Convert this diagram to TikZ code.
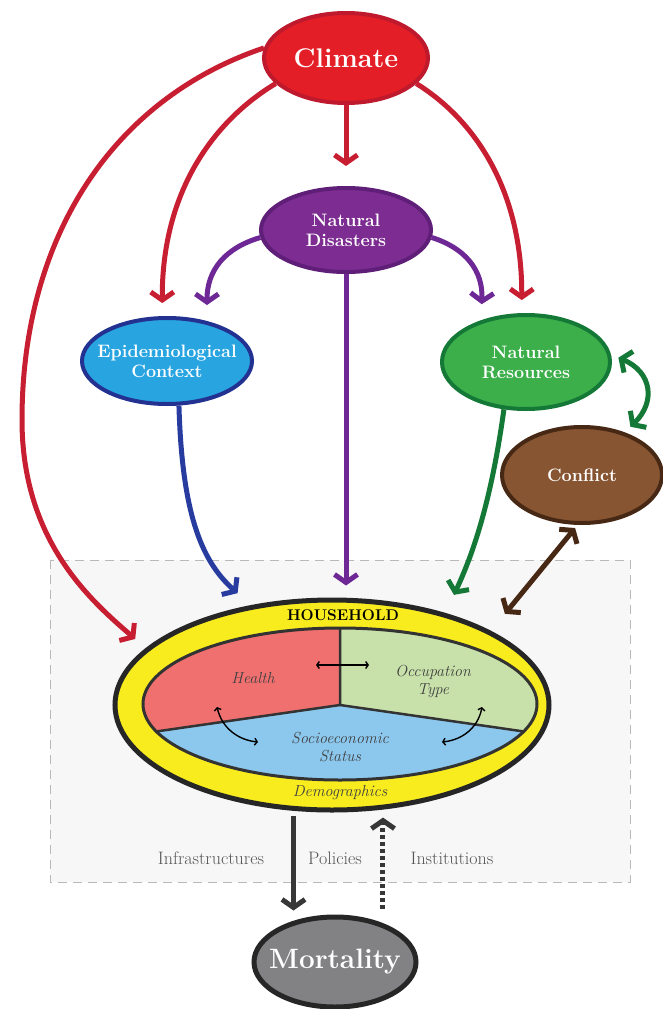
\documentclass[tikz,border=0pt]{standalone}
\usepackage{fontspec}
\usetikzlibrary{arrows.meta,shapes.geometric}
\definecolor{climfill}{RGB}{228,30,38}
\definecolor{climdraw}{RGB}{190,25,45}
\definecolor{climarr}{RGB}{200,30,50}
\definecolor{ndfill}{RGB}{125,45,145}
\definecolor{nddraw}{RGB}{95,30,120}
\definecolor{ndarr}{RGB}{110,40,150}
\definecolor{epifill}{RGB}{40,165,225}
\definecolor{epidraw}{RGB}{35,50,145}
\definecolor{epiarr}{RGB}{40,60,160}
\definecolor{nrfill}{RGB}{60,175,75}
\definecolor{nrdraw}{RGB}{20,120,55}
\definecolor{conffill}{RGB}{135,85,50}
\definecolor{confdraw}{RGB}{70,40,20}
\definecolor{hhyellow}{RGB}{248,236,30}
\definecolor{healthred}{RGB}{240,112,112}
\definecolor{occgreen}{RGB}{200,225,170}
\definecolor{socblue}{RGB}{140,200,238}
\definecolor{mortfill}{RGB}{130,130,132}
\definecolor{darkline}{RGB}{55,55,55}
\definecolor{labgray}{RGB}{85,85,85}
\begin{document}
\begin{tikzpicture}[x=1pt,y=-1pt,
  bubble/.style={ellipse, inner xsep=-11pt, inner ysep=0pt, line width=4pt, text=white, font=\bfseries\fontsize{18}{20}\selectfont, align=center},
  arr/.style={line width=5pt, -{Straight Barb[length=8pt,width=23pt]}},
  darr/.style={line width=5pt, {Straight Barb[length=8pt,width=23pt]}-{Straight Barb[length=8pt,width=23pt]}},
  small/.style={line width=1.4pt, {Straight Barb[length=2.5pt,width=7pt]}-{Straight Barb[length=2.5pt,width=7pt]}},
  ital/.style={font=\itshape\fontsize{16}{18}\selectfont, align=center},
  lab/.style={text=labgray, font=\fontsize{18}{20}\selectfont}
]
\path[use as bounding box, fill=white] (0,0) rectangle (662,1009);

% background dashed box
\draw[gray!55, fill=gray!6, line width=0.9pt, dash pattern=on 9pt off 6pt] (50,560) rectangle (630,882);

% main nodes
\node[bubble, fill=climfill, draw=climdraw, minimum width=164pt, minimum height=90pt, font=\bfseries\fontsize{27}{29}\selectfont] (clim) at (346,58) {Climate};
\node[bubble, fill=ndfill, draw=nddraw, minimum width=170pt, minimum height=84pt] (nd) at (346,230) {Natural\\Disasters};
\node[bubble, fill=epifill, draw=epidraw, minimum width=170pt, minimum height=86pt] (epi) at (167,361) {Epidemiological\\Context};
\node[bubble, fill=nrfill, draw=nrdraw, minimum width=168pt, minimum height=94pt] (nr) at (526,362) {Natural\\Resources};
\node[bubble, fill=conffill, draw=confdraw, minimum width=160pt, minimum height=96pt] (conf) at (582,475) {Conflict};

% household
\node[ellipse, inner sep=0pt, fill=hhyellow, draw=black!85, line width=5pt, minimum width=434pt, minimum height=210pt] (hh) at (332,705) {};
\begin{scope}
  \clip (340,704) ellipse [x radius=197, y radius=76];
  \fill[healthred] (340,600) -- (340,705) -- (100,740) -- (100,600) -- cycle;
  \fill[occgreen] (340,600) -- (340,705) -- (580,740) -- (580,600) -- cycle;
  \fill[socblue] (100,740) -- (340,705) -- (580,740) -- (580,800) -- (100,800) -- cycle;
  \draw[black!80, line width=2.5pt] (340,600) -- (340,705) -- (90,741);
  \draw[black!80, line width=2.5pt] (340,705) -- (590,741);
\end{scope}
\draw[black!80, line width=3pt] (340,704) ellipse [x radius=197, y radius=76];
\node[font=\bfseries\fontsize{15.5}{17}\selectfont] (hhlab) at (343,615) {HOUSEHOLD};
\node[ital, text=black!75] (demo) at (340,793) {Demographics};
\node[ital, text=black!75] (health) at (253,678) {Health};
\node[ital, text=black!75] (occ) at (433,681) {Occupation\\Type};
\node[ital, text=black!75] (soc) at (340,747) {Socioeconomic\\Status};
\coordinate (hoL) at (316,665);
\coordinate (hoR) at (369,665);
\coordinate (hsA) at (217,707);
\coordinate (hsB) at (258,742);
\coordinate (osA) at (442,742);
\coordinate (osB) at (482,707);
\draw[small] (hoL) -- (hoR);
\draw[small] (hsA) .. controls (222,728) and (238,740) .. (hsB);
\draw[small] (osA) .. controls (462,740) and (478,728) .. (osB);

% mortality
\node[bubble, fill=mortfill, draw=black!85, line width=5pt, minimum width=162pt, minimum height=90pt, font=\bfseries\fontsize{28}{30}\selectfont] (mort) at (335,962) {Mortality};

% labels
\node[lab] (infra) at (211,858) {Infrastructures};
\node[lab] (pol) at (335,858) {Policies};
\node[lab] (inst) at (452,858) {Institutions};

% climate arrows
\draw[arr, climarr, shorten >=20pt] (clim.south) -- (nd.north);
\draw[arr, climarr, shorten >=13pt] (clim.200) .. controls (215,120) and (162,190) .. (epi.96);
\draw[arr, climarr, shorten >=13pt] (clim.-20) .. controls (475,120) and (522,190) .. (nr.95);
\draw[arr, climarr, shorten >=14pt] (clim.173) .. controls (110,100) and (22,240) .. (22,420)
  .. controls (22,540) and (90,600) .. (hh.163);

% natural disasters arrows
\draw[arr, ndarr, shorten >=16pt] (nd.185) .. controls (225,248) and (207,270) .. (epi.45);
\draw[arr, ndarr, shorten >=16pt] (nd.-5) .. controls (465,248) and (483,270) .. (nr.137);
\draw[arr, ndarr, shorten >=12pt] (nd.south) -- (nd.south |- hh.north);

% epi -> household
\draw[arr, epiarr, shorten >=18pt] (epi.-75) .. controls (182,510) and (200,560) .. (hh.129);
% natural resources -> household
\draw[arr, nrdraw, shorten >=20pt] (nr.-115) .. controls (490,510) and (470,560) .. (hh.39);
% conflict <-> household
\draw[darr, confdraw, shorten <=4pt, shorten >=22pt] (conf.-95) -- (hh.25);
% natural resources <-> conflict
\draw[darr, nrdraw, shorten <=8pt, shorten >=8pt] (nr.5) .. controls (652,372) and (656,402) .. (conf.45);

% household <-> mortality
\draw[arr, darkline, shorten >=4pt, shorten <=5pt] (hh.250) -- (hh.250 |- mort.north);
\draw[arr, darkline, dash pattern=on 4pt off 3pt, shorten <=6pt, shorten >=8pt] (hh.296 |- mort.north) -- (hh.296);
\end{tikzpicture}
\end{document}
